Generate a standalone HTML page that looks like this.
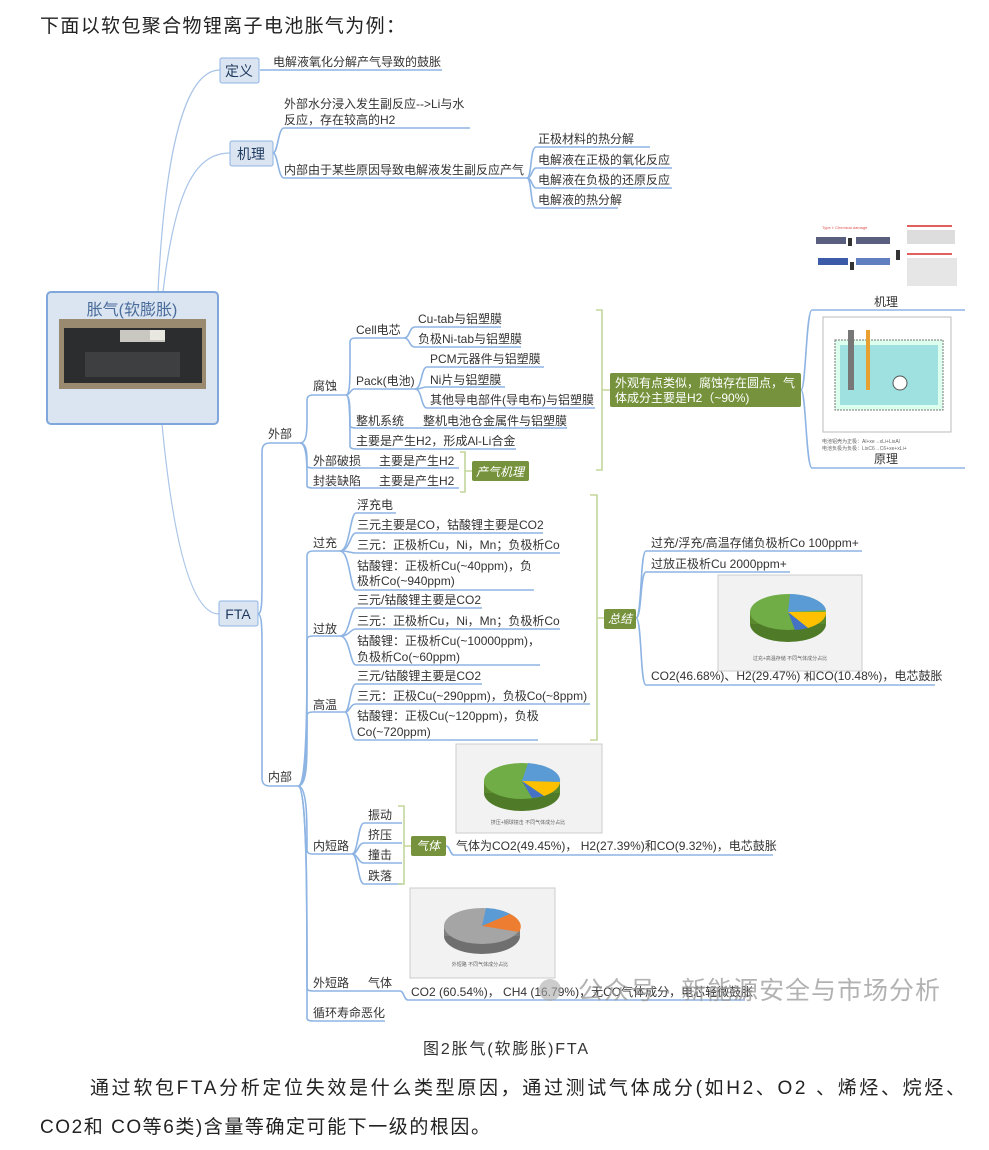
<!DOCTYPE html>
<html><head><meta charset="utf-8"><style>
html,body{margin:0;padding:0;background:#fff;}
svg{display:block;}
text{font-family:"Liberation Sans","Noto Sans CJK SC",sans-serif;fill:#333;}
.n{font-size:12px;}
.u{stroke:#8eb4e3;stroke-width:1.6;fill:none;}
.c{stroke:#a9c4e8;stroke-width:1.2;fill:none;}
.br{stroke:#c3d69b;stroke-width:1.6;fill:none;}
</style></head><body>
<svg width="989" height="1150" viewBox="0 0 989 1150" xmlns="http://www.w3.org/2000/svg">
<text x="40" y="32" textLength="365" lengthAdjust="spacing" style="font-size:19px;fill:#222">下面以软包聚合物锂离子电池胀气为例：</text>

<!-- root curves -->
<path class="c" d="M158 292 C165 150,185 70,220 70"/>
<path class="c" d="M163 292 C175 190,195 153,230 153"/>
<path class="c" d="M162 424 C175 560,195 614,219 614"/>

<!-- root -->
<rect x="47" y="292" width="171" height="132" rx="4" fill="#dbe5f1" stroke="#7fa7dc" stroke-width="2"/>
<text x="132" y="315" text-anchor="middle" style="font-size:16px;fill:#4a6c9b">胀气(软膨胀)</text>
<rect x="59" y="319" width="147" height="70" fill="#9a8a70"/>
<rect x="64" y="328" width="138" height="55" fill="#2b2d2e"/>
<rect x="85" y="352" width="95" height="25" fill="#3d3f40"/>
<rect x="120" y="330" width="45" height="12" fill="#c8c8c0"/>
<rect x="150" y="330" width="15" height="10" fill="#e8e8e0"/>

<!-- 定义 -->
<rect x="220" y="58" width="39" height="25" rx="2" fill="#dbe5f1" stroke="#8eb4e3"/>
<text x="239" y="76" text-anchor="middle" style="font-size:14px;fill:#1f3a5f">定义</text>
<path class="u" d="M260 70 H442"/>
<text class="n" x="273" y="66">电解液氧化分解产气导致的鼓胀</text>

<!-- 机理 -->
<rect x="230" y="141" width="43" height="25" rx="2" fill="#dbe5f1" stroke="#8eb4e3"/>
<text x="251" y="159" text-anchor="middle" style="font-size:14px;fill:#1f3a5f">机理</text>
<path class="u" d="M273 153 C278 153,278 128,284 128 H470"/>
<path class="u" d="M273 153 C278 153,278 178,284 178 H527"/>
<text class="n" x="284" y="108">外部水分浸入发生副反应--&gt;Li与水</text>
<text class="n" x="284" y="124">反应，存在较高的H2</text>
<text class="n" x="284" y="174">内部由于某些原因导致电解液发生副反应产气</text>
<path class="u" d="M527 178 C532 178,530 147,536 147 H650"/>
<path class="u" d="M527 178 C532 178,532 168,536 168 H672"/>
<path class="u" d="M527 178 C532 178,532 188,536 188 H672"/>
<path class="u" d="M527 178 C532 178,530 208,536 208 H618"/>
<text class="n" x="538" y="143">正极材料的热分解</text>
<text class="n" x="538" y="164">电解液在正极的氧化反应</text>
<text class="n" x="538" y="184">电解液在负极的还原反应</text>
<text class="n" x="538" y="204">电解液的热分解</text>

<!-- FTA -->
<rect x="219" y="601" width="39" height="25" rx="2" fill="#dbe5f1" stroke="#8eb4e3"/>
<text x="238" y="619" text-anchor="middle" style="font-size:14px;fill:#1f3a5f">FTA</text>
<path class="u" d="M258 614 C262 614,262 600,262 580 V452 C262 446,264 443,270 443 H300"/>
<path class="u" d="M258 614 C262 614,262 630,262 650 V778 C262 783,264 786,270 786 H298"/>
<text class="n" x="268" y="438">外部</text>
<text class="n" x="268" y="781">内部</text>

<!-- 外部 subtree -->
<path class="u" d="M300 443 C307 443,307 430,307 420 V400 C307 397,309 395,313 395 H346"/>
<path class="u" d="M300 443 C307 443,307 455,307 462 V466 C307 467,309 468,313 468 H459"/>
<path class="u" d="M300 443 C307 443,307 465,307 475 V486 C307 487,309 488,313 488 H459"/>
<text class="n" x="313" y="390">腐蚀</text>
<text class="n" x="313" y="465">外部破损</text>
<text class="n" x="313" y="485">封装缺陷</text>
<text class="n" x="379" y="465">主要是产生H2</text>
<text class="n" x="379" y="485">主要是产生H2</text>

<path class="u" d="M346 395 C350 395,350 380,350 360 V342 C350 339,352 338,356 338 H404"/>
<path class="u" d="M346 395 C350 395,350 390,354 389 H415"/>
<path class="u" d="M346 395 C350 395,350 410,350 420 V426 C350 427,352 428,356 428 H420"/>
<path class="u" d="M346 395 C350 395,350 420,350 440 V446 C350 448,352 449,356 449 H516"/>
<text class="n" x="356" y="334">Cell电芯</text>
<text class="n" x="356" y="385">Pack(电池)</text>
<text class="n" x="356" y="425">整机系统</text>
<text class="n" x="356" y="445">主要是产生H2，形成Al-Li合金</text>

<path class="u" d="M404 338 C410 338,409 327,415 327 H501"/>
<path class="u" d="M404 338 C410 338,409 347,415 347 H521"/>
<text class="n" x="418" y="323">Cu-tab与铝塑膜</text>
<text class="n" x="418" y="343">负极Ni-tab与铝塑膜</text>
<path class="u" d="M415 389 C422 389,421 367,427 367 H544"/>
<path class="u" d="M415 389 C422 389,421 387,427 387 H505"/>
<path class="u" d="M415 389 C422 389,421 408,427 408 H595"/>
<text class="n" x="430" y="363">PCM元器件与铝塑膜</text>
<text class="n" x="430" y="384">Ni片与铝塑膜</text>
<text class="n" x="430" y="404">其他导电部件(导电布)与铝塑膜</text>
<path class="u" d="M420 428 H567"/>
<text class="n" x="423" y="425">整机电池仓金属件与铝塑膜</text>

<path class="br" d="M460 452 H465 V492 H460 M465 471 H472"/>
<rect x="472" y="461" width="57" height="20" rx="2" fill="#76923c"/>
<text x="500" y="476" text-anchor="middle" style="font-size:12px;fill:#fff;font-style:italic">产气机理</text>

<path class="br" d="M596 310 H602 V470 H596 M602 390 H610"/>
<rect x="610" y="373" width="191" height="34" rx="2" fill="#76923c"/>
<text x="615" y="387" style="font-size:12px;fill:#fff">外观有点类似，腐蚀存在圆点，气</text>
<text x="615" y="402" style="font-size:12px;fill:#fff">体成分主要是H2（~90%)</text>
<path class="u" d="M801 390 C806 390,806 310,812 310 H965"/>
<path class="u" d="M801 390 C806 390,806 468,812 468 H965"/>
<!-- mechanism image -->
<g>
<text x="822" y="229" style="font-size:4px;fill:#e05050">Type I: Chemical damage</text>
<rect x="816" y="237" width="30" height="7" fill="#5a5f80"/><rect x="856" y="237" width="34" height="7" fill="#5a5f80"/>
<rect x="848" y="238" width="4" height="8" fill="#333"/>
<rect x="818" y="258" width="30" height="7" fill="#3b5ba8"/><rect x="856" y="258" width="34" height="7" fill="#5f7fc0"/>
<rect x="850" y="262" width="4" height="8" fill="#333"/>
<rect x="896" y="250" width="4" height="10" fill="#333"/>
<rect x="907" y="225" width="45" height="2" fill="#e06060"/><rect x="907" y="230" width="48" height="14" fill="#ddd"/>
<rect x="907" y="253" width="45" height="2" fill="#e06060"/><rect x="907" y="258" width="50" height="28" fill="#e6e6e6"/>
</g>
<text x="886" y="306" text-anchor="middle" style="font-size:12px">机理</text>
<rect x="823" y="317" width="128" height="115" fill="#fff" stroke="#bbb"/>
<rect x="835" y="340" width="108" height="70" fill="#dfe" stroke="#777" stroke-dasharray="2 1"/>
<rect x="840" y="345" width="98" height="60" fill="#9fe0e0"/>
<rect x="848" y="330" width="6" height="60" fill="#777"/>
<rect x="866" y="330" width="4" height="60" fill="#e8a030"/>
<circle cx="900" cy="383" r="7" fill="#fff" stroke="#555"/>
<text x="822" y="443" style="font-size:5px;fill:#666">电池铝壳为正极：Al+xe→xLi+LixAl</text>
<text x="822" y="450" style="font-size:5px;fill:#666">电池负极为负极：LixC6→C6+xe+xLi+</text>
<text x="886" y="463" text-anchor="middle" style="font-size:12px">原理</text>

<!-- 内部 subtree -->
<path class="u" d="M298 786 C307 786,307 760,307 740 V556 C307 553,309 551,313 551 H340"/>
<path class="u" d="M298 786 C307 786,307 700,307 660 V640 C307 637,309 636,313 636 H340"/>
<path class="u" d="M298 786 C307 786,307 740,307 720 V716 C307 713,309 712,313 712 H345"/>
<path class="u" d="M298 786 C307 786,307 820,307 840 V850 C307 853,309 854,313 854 H352"/>
<path class="u" d="M298 786 C307 786,307 900,307 960 V988 C307 990,309 991,313 991 H352"/>
<path class="u" d="M298 786 C307 786,307 900,307 1000 V1018 C307 1020,309 1021,313 1021 H385"/>
<text class="n" x="313" y="547">过充</text>
<text class="n" x="313" y="633">过放</text>
<text class="n" x="313" y="709">高温</text>
<text class="n" x="313" y="850">内短路</text>
<text class="n" x="313" y="987">外短路</text>
<text class="n" x="313" y="1017">循环寿命恶化</text>

<path class="u" d="M340 551 C350 551,350 513,356 513 H396"/>
<path class="u" d="M340 551 C350 551,350 533,356 533 H543"/>
<path class="u" d="M340 551 C350 551,350 553,356 553 H560"/>
<path class="u" d="M340 551 C350 551,350 590,356 590 H534"/>
<text class="n" x="357" y="509">浮充电</text>
<text class="n" x="357" y="529">三元主要是CO，钴酸锂主要是CO2</text>
<text class="n" x="357" y="549">三元：正极析Cu，Ni，Mn；负极析Co</text>
<text class="n" x="357" y="570">钴酸锂：正极析Cu(~40ppm)，负</text>
<text class="n" x="357" y="585">极析Co(~940ppm)</text>

<path class="u" d="M340 636 C350 636,350 608,356 608 H482"/>
<path class="u" d="M340 636 C350 636,350 629,356 629 H560"/>
<path class="u" d="M340 636 C350 636,350 665,356 665 H540"/>
<text class="n" x="357" y="604">三元/钴酸锂主要是CO2</text>
<text class="n" x="357" y="625">三元：正极析Cu，Ni，Mn；负极析Co</text>
<text class="n" x="357" y="645">钴酸锂：正极析Cu(~10000ppm)，</text>
<text class="n" x="357" y="661">负极析Co(~60ppm)</text>

<path class="u" d="M345 712 C350 712,350 684,356 684 H482"/>
<path class="u" d="M345 712 C350 712,350 704,356 704 H590"/>
<path class="u" d="M345 712 C350 712,350 740,356 740 H538"/>
<text class="n" x="357" y="680">三元/钴酸锂主要是CO2</text>
<text class="n" x="357" y="700">三元：正极Cu(~290ppm)，负极Co(~8ppm)</text>
<text class="n" x="357" y="720">钴酸锂：正极Cu(~120ppm)，负极</text>
<text class="n" x="357" y="736">Co(~720ppm)</text>

<path class="br" d="M590 495 H597 V740 H590 M597 618 H604"/>
<rect x="604" y="609" width="32" height="20" rx="2" fill="#76923c"/>
<text x="620" y="623" text-anchor="middle" style="font-size:12px;fill:#fff;font-style:italic">总结</text>
<path class="u" d="M636 618 C642 618,640 551,646 551 H862"/>
<path class="u" d="M636 618 C642 618,640 572,646 572 H790"/>
<path class="u" d="M636 618 C642 618,640 685,646 685 H935"/>
<text class="n" x="651" y="547">过充/浮充/高温存储负极析Co 100ppm+</text>
<text class="n" x="651" y="568">过放正极析Cu 2000ppm+</text>
<text class="n" x="651" y="680">CO2(46.68%)、H2(29.47%) 和CO(10.48%)，电芯鼓胀</text>
<!-- pie 1 -->
<rect x="718" y="575" width="144" height="96" fill="#f2f2f2" stroke="#ccc"/>
<ellipse cx="788" cy="624" rx="38" ry="18" fill="#4f7a28"/>
<rect x="750" y="612" width="76" height="12" fill="#5a8a2d"/>
<ellipse cx="788" cy="612" rx="38" ry="18" fill="#70ad47"/>
<path d="M788 612 L790 594 A38 18 0 0 1 826 610 Z" fill="#5b9bd5"/>
<path d="M788 612 L826 612 A38 18 0 0 1 808 628 Z" fill="#ffc000"/>
<path d="M788 612 L808 628 A38 18 0 0 1 795 630 Z" fill="#4472c4"/>
<text x="790" y="660" text-anchor="middle" style="font-size:5px;fill:#666">过充+高温存储 不同气体成分占比</text>

<path class="u" d="M352 854 C358 854,358 823,364 823 H402"/>
<path class="u" d="M352 854 C358 854,358 843,364 843 H402"/>
<path class="u" d="M352 854 C358 854,358 863,364 863 H402"/>
<path class="u" d="M352 854 C358 854,358 884,364 884 H402"/>
<text class="n" x="368" y="819">振动</text>
<text class="n" x="368" y="839">挤压</text>
<text class="n" x="368" y="859">撞击</text>
<text class="n" x="368" y="880">跌落</text>
<path class="br" d="M398 806 H404 V884 H398 M404 846 H411"/>
<rect x="411" y="836" width="35" height="20" rx="2" fill="#76923c"/>
<text x="428" y="850" text-anchor="middle" style="font-size:12px;fill:#fff;font-style:italic">气体</text>
<path class="u" d="M446 846 C450 846,450 855,454 855 H773"/>
<text class="n" x="456" y="850">气体为CO2(49.45%)， H2(27.39%)和CO(9.32%)，电芯鼓胀</text>
<!-- pie 2 -->
<rect x="456" y="744" width="146" height="89" fill="#f2f2f2" stroke="#ccc"/>
<ellipse cx="522" cy="793" rx="38" ry="18" fill="#4f7a28"/>
<rect x="484" y="781" width="76" height="12" fill="#5a8a2d"/>
<ellipse cx="522" cy="781" rx="38" ry="18" fill="#70ad47"/>
<path d="M522 781 L528 763 A38 18 0 0 1 560 782 Z" fill="#5b9bd5"/>
<path d="M522 781 L560 782 A38 18 0 0 1 544 796 Z" fill="#ffc000"/>
<path d="M522 781 L544 796 A38 18 0 0 1 532 798 Z" fill="#4472c4"/>
<text x="528" y="824" text-anchor="middle" style="font-size:5px;fill:#666">挤压+钢球撞击 不同气体成分占比</text>

<path class="u" d="M352 991 H400"/>
<text class="n" x="368" y="987">气体</text>
<path class="u" d="M400 991 C404 991,404 1000,408 1000 H745"/>
<text class="n" x="411" y="996">CO2 (60.54%)， CH4 (16.79%)，无CO气体成分，电芯轻微鼓胀</text>
<!-- pie 3 -->
<rect x="410" y="888" width="145" height="90" fill="#f2f2f2" stroke="#ccc"/>
<ellipse cx="482" cy="936" rx="38" ry="18" fill="#6f6f6f"/>
<rect x="444" y="926" width="76" height="10" fill="#7f7f7f"/>
<ellipse cx="482" cy="926" rx="38" ry="18" fill="#a5a5a5"/>
<path d="M482 926 L486 908 A38 18 0 0 1 510 914 Z" fill="#5b9bd5"/>
<path d="M482 926 L510 914 A38 18 0 0 1 519 932 Z" fill="#ed7d31"/>
<text x="480" y="966" text-anchor="middle" style="font-size:5px;fill:#666">外短路 不同气体成分占比</text>

<!-- watermark -->
<circle cx="550" cy="990" r="11" fill="#aaa" opacity="0.6"/>
<text x="578" y="999" textLength="362" lengthAdjust="spacing" style="font-size:25px;fill:#999;opacity:0.75">公众号 · 新能源安全与市场分析</text>

<text x="423" y="1054" textLength="165" lengthAdjust="spacing" style="font-size:16px;fill:#333">图2胀气(软膨胀)FTA</text>
<text x="90" y="1094" textLength="875" lengthAdjust="spacing" style="font-size:19px;fill:#222">通过软包FTA分析定位失效是什么类型原因，通过测试气体成分(如H2、O2 、烯烃、烷烃、</text>
<text x="40" y="1133" textLength="450" lengthAdjust="spacing" style="font-size:19px;fill:#222">CO2和 CO等6类)含量等确定可能下一级的根因。</text>
</svg>
</body></html>
